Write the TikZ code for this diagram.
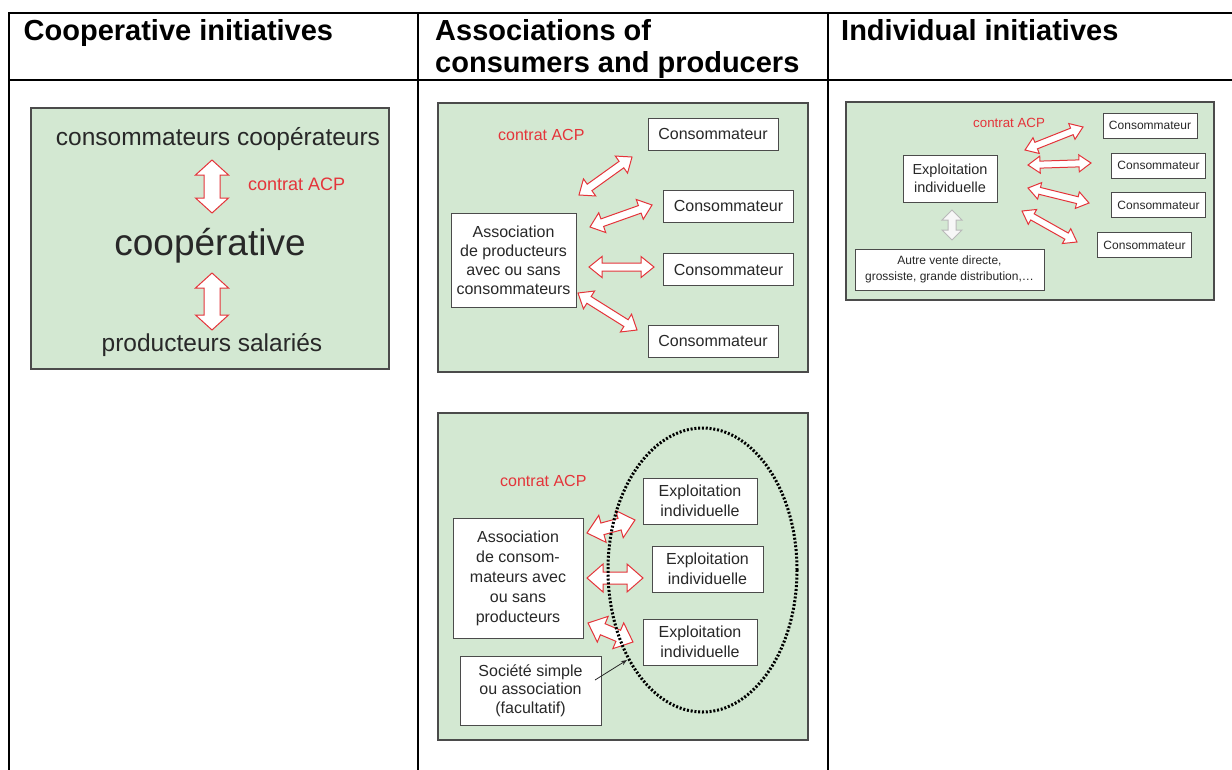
\documentclass[tikz,border=0pt]{standalone}
\usepackage{fontspec}
\setmainfont{Liberation Sans}
\usetikzlibrary{calc,arrows.meta}

\definecolor{panelgreen}{RGB}{211,232,210}
\definecolor{acpred}{RGB}{228,52,58}
\definecolor{ink}{RGB}{40,40,40}
\definecolor{frame}{RGB}{75,75,75}

% hollow double arrow drawn as a to path
\tikzset{
  fat head/.store in=\fatH, fat tip/.store in=\fatW, fat shaft/.store in=\fatS,
  fat head=12pt, fat tip=9pt, fat shaft=4pt,
  fat/.style={to path={
    -- ($(\tikztostart)!\fatH!(\tikztotarget)!\fatW!90:(\tikztotarget)$)
    -- ($(\tikztostart)!\fatH!(\tikztotarget)!\fatS!90:(\tikztotarget)$)
    -- ($(\tikztotarget)!\fatH!(\tikztostart)!\fatS!90:(\tikztotarget)$)
    -- ($(\tikztotarget)!\fatH!(\tikztostart)!\fatW!90:(\tikztotarget)$)
    -- (\tikztotarget)
    -- ($(\tikztotarget)!\fatH!(\tikztostart)!\fatW!270:(\tikztotarget)$)
    -- ($(\tikztotarget)!\fatH!(\tikztostart)!\fatS!270:(\tikztotarget)$)
    -- ($(\tikztostart)!\fatH!(\tikztotarget)!\fatS!270:(\tikztotarget)$)
    -- ($(\tikztostart)!\fatH!(\tikztotarget)!\fatW!270:(\tikztotarget)$)
    -- cycle}},
}

\begin{document}
\begin{tikzpicture}
        [x=1pt,y=-1pt,every node/.style={text=ink},
         tab/.style={line width=2pt,black},
         hd/.style={font=\fontsize{29}{33}\selectfont\bfseries,text=black,anchor=base west,inner sep=0},
         panel/.style={draw=frame,fill=panelgreen,line width=1.2pt},
         box/.style={draw=frame,fill=white,line width=0.9pt,align=center,inner sep=0},
         acp/.style={text=acpred,anchor=base west,inner sep=0},
         redfat/.style={fat,draw=acpred,fill=white,line width=1pt},
         greyfat/.style={fat,draw=gray!55,fill=gray!6,line width=1pt},
         dots/.style={black,line width=3pt,dash pattern=on 2pt off 1.8pt}]
        \fill[white] (0,0) rectangle (1232,769);
        \useasboundingbox (0,0) rectangle (1232,769);

        % table
        \draw[tab] (9,13) -- (1232,13);
        \draw[tab] (9,80) -- (1232,80);
        \foreach \x in {9,418,828}
            \draw[tab,line cap=rect] (\x,13) -- (\x,769);
        \node[hd] (h1) at (23.5,40) {Cooperative initiatives};
        \node[hd] (h2) at (435,40) {Associations of};
        \node[hd] (h2b) at (435,72) {consumers and producers};
        \node[hd] (h3) at (841,40) {Individual initiatives};

        % cooperative
        \draw[panel] (31,108) rectangle (389,369);
        \node[anchor=base,font=\fontsize{24.5}{28}\selectfont] (cc) at (218,145) {consommateurs coopérateurs};
        \node[anchor=base,font=\fontsize{37}{40}\selectfont] (coop) at (210,255) {coopérative};
        \node[anchor=base,font=\fontsize{24.5}{28}\selectfont] (ps) at (212,351) {producteurs salariés};
        \node[acp,font=\fontsize{18}{20}\selectfont] (acp1) at (248,190) {contrat ACP};
        \coordinate (cu) at (212,160);
        \coordinate (cd) at (212,213);
        \coordinate (pu) at (212,273);
        \coordinate (pd) at (212,330);
        \foreach \from/\to in {cu/cd, pu/pd}
            \draw[redfat,fat head=15pt,fat tip=16.5pt,fat shaft=8pt] (\from) to (\to);

        % association of producers
        \draw[panel] (438,103) rectangle (808,372);
        \node[acp,font=\fontsize{16}{19}\selectfont] (acp2) at (498,140) {contrat ACP};
        \node[box,minimum width=125pt,minimum height=94pt,font=\fontsize{16}{19}\selectfont] (pa) at (513.5,260)
            {Association\\de producteurs\\avec ou sans\\consommateurs};
        \foreach \n/\x/\y in {1/713/134, 2/728.5/206, 3/728.5/269.5, 4/713/341}
            \node[box,minimum width=130pt,minimum height=32pt,font=\fontsize{16}{19}\selectfont] (c\n) at (\x,\y) {Consommateur};
        \coordinate (pa1) at (579,195);  \coordinate (pc1) at (632,157);
        \coordinate (pa2) at (590,227);  \coordinate (pc2) at (652,205);
        \coordinate (pa3) at (589,267);  \coordinate (pc3) at (654,267);
        \coordinate (pa4) at (578,293);  \coordinate (pc4) at (637,330);
        \foreach \from/\to in {pa1/pc1, pa2/pc2, pa3/pc3, pa4/pc4}
            \draw[redfat,fat head=13pt,fat tip=10.5pt,fat shaft=4pt] (\from) to (\to);

        % individual farm
        \draw[panel] (846,102) rectangle (1214,300);
        \node[acp,font=\fontsize{13.3}{16}\selectfont] (acp3) at (973,127) {contrat ACP};
        \node[box,minimum width=94pt,minimum height=47pt,font=\fontsize{14.5}{18.3}\selectfont] (ei) at (950,178.5)
            {Exploitation\\individuelle};
        \node[box,minimum width=189pt,minimum height=41pt,font=\fontsize{12}{16.7}\selectfont] (av) at (949.5,269.5)
            {Autre vente directe,\\grossiste, grande distribution,\dots};
        \foreach \n/\x/\y in {1/1150/125.5, 2/1158.5/165.5, 3/1158.5/205, 4/1144.5/245}
            \node[box,minimum width=94pt,minimum height=25pt,font=\fontsize{12}{14}\selectfont] (k\n) at (\x,\y) {Consommateur};
        \coordinate (ea1) at (1025,150);  \coordinate (ec1) at (1083,127);
        \coordinate (ea2) at (1028,165);  \coordinate (ec2) at (1091,163);
        \coordinate (ea3) at (1028,188);  \coordinate (ec3) at (1089,203);
        \coordinate (ea4) at (1022,211);  \coordinate (ec4) at (1077,242);
        \foreach \from/\to in {ea1/ec1, ea2/ec2, ea3/ec3, ea4/ec4}
            \draw[redfat,fat head=12pt,fat tip=8.5pt,fat shaft=3.5pt] (\from) to (\to);
        \coordinate (ga) at (952,210);
        \coordinate (gb) at (952,240);
        \draw[greyfat,fat head=10pt,fat tip=10pt,fat shaft=4pt] (ga) to (gb);

        % association of consumers
        \draw[panel] (438,413) rectangle (808,740);
        \node[acp,font=\fontsize{16}{19}\selectfont] (acp4) at (500,486) {contrat ACP};
        \node[box,minimum width=130pt,minimum height=120pt,font=\fontsize{16}{20}\selectfont] (ca) at (518,578)
            {Association\\de consom-\\mateurs avec\\ou sans\\producteurs};
        \node[box,minimum width=141pt,minimum height=69pt,font=\fontsize{16}{18.5}\selectfont] (soc) at (530.5,690.5)
            {Société simple\\ou association\\(facultatif)};
        \foreach \n/\x/\y/\w in {1/700/501/114, 2/707.5/569/111, 3/700/642/114}
            \node[box,minimum width=\w pt,minimum height=46pt,font=\fontsize{16}{20}\selectfont] (x\n) at (\x,\y)
                {Exploitation\\individuelle};
        \coordinate (ca1) at (587,533);  \coordinate (ce1) at (635,520);
        \coordinate (ca2) at (587,578);  \coordinate (ce2) at (643,578);
        \coordinate (ca3) at (588,623);  \coordinate (ce3) at (633,642);
        \foreach \from/\to in {ca1/ce1, ca2/ce2, ca3/ce3}
            \draw[redfat,fat head=16pt,fat tip=14pt,fat shaft=6pt] (\from) to (\to);
        \draw[dots] (702.5,570) ellipse [x radius=94.5pt,y radius=142pt];
        \coordinate (sp) at (595,680);
        \coordinate (st) at (627,660);
        \draw[-{Stealth[length=6pt]},ink,line width=0.8pt] (sp) -- (st);

      \end{tikzpicture}
\end{document}
